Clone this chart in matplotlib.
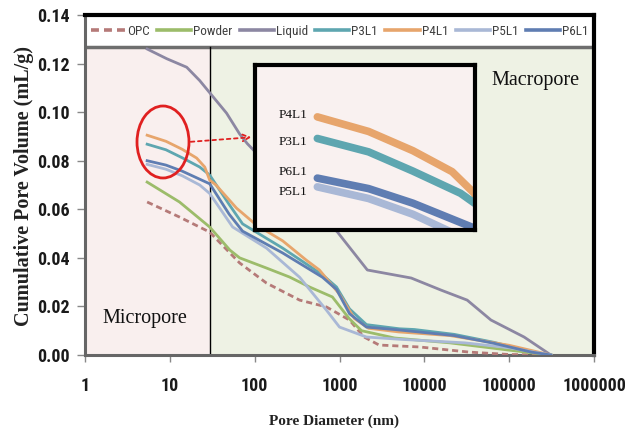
import matplotlib
matplotlib.use('Agg')
import matplotlib.pyplot as plt
from matplotlib import font_manager as fm
from matplotlib.patches import Ellipse, FancyArrowPatch
from matplotlib.ticker import NullLocator

# ---------------- data ----------------
opc_x = [5.4, 13, 29.5, 66.5, 138, 339, 700, 1310, 1950, 2930, 8810, 33600, 100000, 300000]
opc_y = [0.063, 0.0568, 0.0506, 0.0379, 0.0296, 0.0226, 0.0198, 0.0144, 0.0074, 0.0041, 0.0033, 0.0012, 0.0002, 0.0]

powder_x = [5.4, 13, 29.5, 51, 66.5, 138, 258, 444, 824, 1300, 1820, 4460, 20000, 100000, 310000]
powder_y = [0.0712, 0.063, 0.0527, 0.0432, 0.040, 0.0358, 0.0321, 0.028, 0.0239, 0.015, 0.010, 0.007, 0.005, 0.002, 0.0]

liquid_x = [5.4, 9.2, 15.8, 22.5, 29.5, 46.6, 66.5, 82, 200, 500, 947, 2130, 7000, 15800, 32000, 61000, 150000, 310000]
liquid_y = [0.126, 0.122, 0.1185, 0.113, 0.108, 0.0996, 0.091, 0.087, 0.073, 0.060, 0.0506, 0.035, 0.0317, 0.0267, 0.0226, 0.0144, 0.0074, 0.0]

p3l1_x = [5.4, 9, 14, 22.5, 29.5, 50, 72, 214, 631, 922, 1312, 2080, 5080, 7600, 22500, 66500, 182000, 310000]
p3l1_y = [0.0868, 0.0845, 0.0812, 0.0774, 0.0741, 0.062, 0.054, 0.044, 0.033, 0.028, 0.019, 0.0125, 0.0108, 0.0105, 0.0085, 0.0052, 0.0014, 0.0]

p4l1_x = [5.4, 9, 14, 20.7, 25.8, 29.5, 35, 61, 105, 214, 408, 580, 1000, 1500, 2200, 5000, 20000, 100000, 310000]
p4l1_y = [0.0905, 0.0880, 0.0847, 0.0811, 0.0774, 0.072, 0.070, 0.0605, 0.0535, 0.047, 0.039, 0.035, 0.025, 0.015, 0.011, 0.0095, 0.008, 0.004, 0.0]

p5l1_x = [5.4, 9, 14, 22.5, 29.5, 55, 138, 339, 700, 1000, 2080, 5000, 30000, 100000, 310000]
p5l1_y = [0.0785, 0.0765, 0.0738, 0.070, 0.0665, 0.0527, 0.044, 0.032, 0.0185, 0.0115, 0.0074, 0.0065, 0.005, 0.003, 0.0]

p6l1_x = [5.4, 9, 14, 29.5, 50, 72, 214, 631, 922, 1312, 2080, 5080, 22500, 66500, 182000, 310000]
p6l1_y = [0.080, 0.0782, 0.0757, 0.0705, 0.058, 0.051, 0.042, 0.032, 0.027, 0.017, 0.0115, 0.0103, 0.008, 0.0048, 0.0012, 0.0]

x_ticks = [1, 10, 100, 1000, 10000, 100000, 1000000]
x_tick_labels = ['1', '10', '100', '1000', '10000', '100000', '1000000']
y_ticks = [0.0, 0.02, 0.04, 0.06, 0.08, 0.10, 0.12, 0.14]
y_tick_labels = ['0.00', '0.02', '0.04', '0.06', '0.08', '0.10', '0.12', '0.14']

series = [
    ('OPC', opc_x, opc_y, '#b57a78', (0, (2.2, 1.4))),
    ('Powder', powder_x, powder_y, '#9cbc6a', '-'),
    ('Liquid', liquid_x, liquid_y, '#8c87a2', '-'),
    ('P3L1', p3l1_x, p3l1_y, '#5ea6b0', '-'),
    ('P4L1', p4l1_x, p4l1_y, '#e7a56c', '-'),
    ('P5L1', p5l1_x, p5l1_y, '#a9b8d6', '-'),
    ('P6L1', p6l1_x, p6l1_y, '#5f7db2', '-'),
]


def pick_font(cands):
    for c in cands:
        try:
            fm.findfont(fm.FontProperties(family=c), fallback_to_default=False)
            return c
        except Exception:
            pass
    return 'DejaVu Sans'


narrow_name = pick_font(['Liberation Sans Narrow', 'DejaVu Sans Condensed', 'Roboto Condensed',
                         'Open Sans Condensed', 'Arial Narrow'])
narrow = [narrow_name, 'DejaVu Sans']
serif = ['Liberation Serif', 'DejaVu Serif']

W, H = 635, 434
fig = plt.figure(figsize=(W / 100, H / 100), dpi=100)
ax = fig.add_axes([85 / W, 1 - 355 / H, (594 - 85) / W, (355 - 15) / H])
ax.set_xscale('log')
ax.set_xlim(1, 1e6)
ax.set_ylim(0, 0.14)

strip_y = 0.1267
split_x = 30
ax.fill_between([1, split_x], 0, strip_y, color='#f9efee', zorder=0, lw=0)
ax.fill_between([split_x, 1e6], 0, strip_y, color='#eef2e4', zorder=0, lw=0)
ax.axhline(strip_y, color='#6e6e6e', lw=2.5, zorder=1)
ax.plot([split_x, split_x], [0, strip_y], color='black', lw=1, zorder=1)

for name, xs, ys, c, ls in series:
    ax.plot(xs, ys, color=c, lw=2.0, ls=ls, label=name, zorder=3, solid_joinstyle='round')

leg = ax.legend(ncol=7, loc='center', bbox_to_anchor=(0.5, (0.14 + strip_y) / 2 / 0.14),
                frameon=False, handlelength=2.6, handletextpad=0.15, columnspacing=0.55,
                borderaxespad=0, prop={'family': narrow, 'size': 9.5, 'stretch': 'condensed'})
for t in leg.get_texts():
    t.set_color('#404040')
for h in leg.legend_handles:
    h.set_linewidth(2.6)

ax.set_xticks(x_ticks)
ax.set_xticklabels(x_tick_labels)
ax.xaxis.set_minor_locator(NullLocator())
ax.set_yticks(y_ticks)
ax.set_yticklabels(y_tick_labels)
for lbl in ax.get_xticklabels() + ax.get_yticklabels():
    lbl.set_family(narrow)
    lbl.set_fontweight('bold')
    lbl.set_fontstretch('condensed')
    lbl.set_fontsize(13)
    lbl.set_color('#1a1a1a')
ax.tick_params(axis='x', direction='out', length=5, width=1, color='#888888', pad=11)
ax.tick_params(axis='y', direction='out', length=6, width=1, color='#888888', pad=5)

for s in ['top', 'right']:
    ax.spines[s].set_color('black')
    ax.spines[s].set_linewidth(3)
for s in ['left', 'bottom']:
    ax.spines[s].set_color('#666666')
    ax.spines[s].set_linewidth(2.2)

fig.text(24 / W, 1 - 186 / H, 'Cumulative Pore Volume (mL/g)', rotation=90, ha='center', va='center',
         family=serif, fontweight='bold', fontsize=14.5, color='#222222')
fig.text(334 / W, 1 - 421 / H, 'Pore Diameter (nm)', ha='center', va='center',
         family=serif, fontweight='bold', fontsize=11, color='#222222')

fig.text(535 / W, 1 - 81 / H, 'Macropore', ha='center', va='center', family=serif, fontsize=14.5, color='#111111')
fig.text(145 / W, 1 - 318 / H, 'Micropore', ha='center', va='center', family=serif, fontsize=14.5, color='#111111')

# red ellipse and dashed arrow
fig.patches.append(Ellipse((163 / W, 1 - 142 / H), 52 / W, 72 / H, transform=fig.transFigure,
                           fill=False, edgecolor='#e02020', lw=2))
fig.add_artist(FancyArrowPatch((188 / W, 1 - 142 / H), (254 / W, 1 - 137 / H),
               transform=fig.transFigure, arrowstyle='->', mutation_scale=12,
               color='#e02020', lw=1.3, linestyle=(0, (2, 2))))

# inset
axin = fig.add_axes([255 / W, 1 - 230 / H, 220 / W, 165 / H])
axin.set_facecolor('#f9f1f0')
axin.set_xscale('log')
axin.set_xlim(2.9, 26)
axin.set_ylim(0.0711, 0.0994)
axin.set_xticks([])
axin.set_yticks([])
axin.xaxis.set_minor_locator(NullLocator())
for s in axin.spines.values():
    s.set_color('black')
    s.set_linewidth(3)
inset_series = [series[4], series[3], series[6], series[5]]
for name, xs, ys, c, ls in inset_series:
    axin.plot(xs, ys, color=c, lw=5.5, solid_capstyle='round', solid_joinstyle='round')
for name, ty in [('P4L1', 0.697), ('P3L1', 0.533), ('P6L1', 0.352), ('P5L1', 0.23)]:
    axin.text(0.24, ty, name, transform=axin.transAxes, ha='right', va='center',
              family=serif, fontsize=9.5, color='#111111')

fig.savefig('out.png', dpi=100)
